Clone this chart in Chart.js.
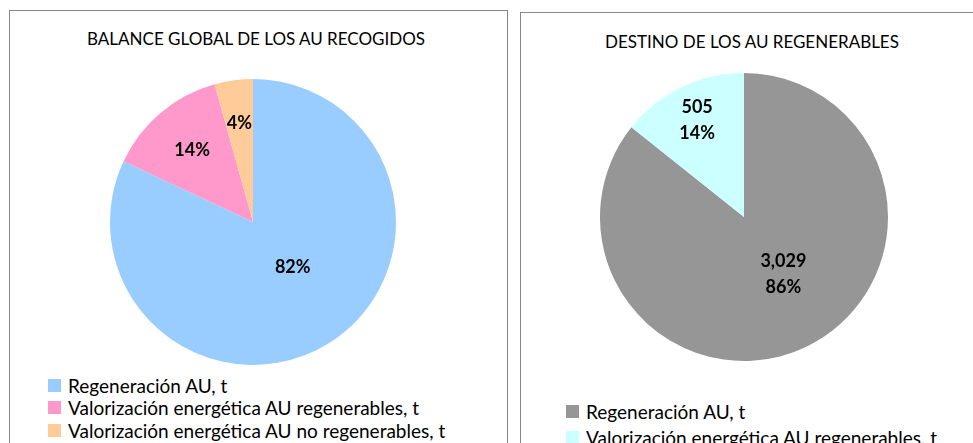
<!DOCTYPE html>
<html>
<head>
<meta charset="utf-8">
<script src="https://cdn.jsdelivr.net/npm/chart.js@4.4.1/dist/chart.umd.min.js"></script>
<style>
    body {
        margin: 0;
        width: 973px;
        height: 443px;
        overflow: hidden;
        background: #fff;
        position: relative;
        font-family: Lato, "Open Sans", sans-serif;
        color: #000;
    }
    .panel {
        position: absolute;
        border: 1px solid #878787;
        background: #fff;
    }
    .title {
        position: absolute;
        white-space: nowrap;
        font-size: 17px;
        line-height: 20px;
        transform: translateX(-50%);
    }
    canvas {
        position: absolute;
    }
    ul.legend {
        position: absolute;
        list-style: none;
        margin: 0;
        padding: 0;
    }
</style>
</head>
<body>
<div class="panel" style="left:9px; top:10px; width:497px; height:450px;"></div>
<div class="panel" style="left:520px; top:12px; width:470px; height:450px;"></div>

<div class="title" style="left:256px; top:29px;">BALANCE GLOBAL DE LOS AU RECOGIDOS</div>
<div class="title" style="left:752px; top:32px;">DESTINO DE LOS AU REGENERABLES</div>

<canvas id="balance-chart" width="286" height="286" style="left:110px; top:79px;"></canvas>
<canvas id="destino-chart" width="288" height="288" style="left:600px; top:73px;"></canvas>

<ul class="legend balance-legend" style="left:48px; top:374px;"></ul>
<ul class="legend destino-legend" style="left:566px; top:399px;"></ul>

<script>
// toneladas de aceites usados
const balanceLabels = ['Regeneración AU, t', 'Valorización energética AU regenerables, t', 'Valorización energética AU no regenerables, t'];
const balanceValues = [3029, 505, 160];
const balanceColors = ['#99ccff', '#ff99cc', '#ffcc99'];

const destinoLabels = ['Regeneración AU, t', 'Valorización energética AU regenerables, t'];
const destinoValues = [3029, 505];
const destinoColors = ['#969696', '#ccffff'];

const sliceLabelPlugin = {
    id: 'sliceLabelPlugin',
    afterDatasetsDraw(chart, args, options) {
        const ctx = chart.ctx;
        const data = chart.data.datasets[0].data;
        const total = data.reduce((a, b) => a + b, 0);

        ctx.save();
        ctx.font = 'bold 18px Lato';
        ctx.fillStyle = '#000';
        ctx.textAlign = 'center';
        ctx.textBaseline = 'middle';

        chart.getDatasetMeta(0).data.forEach((arc, i) => {
            // excel "best fit" no siempre cae en la bisectriz
            const mid = (arc.startAngle + arc.endAngle) / 2 + options.shift[i] * Math.PI / 180;
            const dist = arc.outerRadius * options.radius[i];
            const x = arc.x + Math.cos(mid) * dist;
            const y = arc.y + Math.sin(mid) * dist;
            const pct = Math.round(data[i] / total * 100) + '%';

            if (options.showValue) {
                ctx.fillText(data[i].toLocaleString('en-US'), x, y - 13);
                ctx.fillText(pct, x, y + 13);
            } else {
                ctx.fillText(pct, x, y);
            }
        });
        ctx.restore();
    }
};

const legendPlugin = {
    id: 'legendPlugin',
    afterUpdate(chart, args, options) {
        const ul = document.querySelector(options.container);

        while (ul.firstChild) {
            ul.firstChild.remove();
        }

        chart.legend.legendItems.forEach(item => {
            const li = document.createElement('li');
            li.style.display = 'flex';
            li.style.alignItems = 'center';
            li.style.height = options.rowHeight + 'px';

            const boxSpan = document.createElement('span');
            boxSpan.style.background = item.fillStyle;
            boxSpan.style.display = 'inline-block';
            boxSpan.style.width = '13px';
            boxSpan.style.height = '13px';
            boxSpan.style.marginRight = '7px';

            const text = document.createElement('span');
            text.style.fontSize = '19px';
            text.style.whiteSpace = 'nowrap';
            text.textContent = item.text;

            li.appendChild(boxSpan);
            li.appendChild(text);
            ul.appendChild(li);
        });
    }
};

function pieChart(selector, labels, values, colors, pluginOptions) {
    return new Chart(document.querySelector(selector), {
        type: 'pie',
        data: {
            labels: labels,
            datasets: [{
                data: values,
                backgroundColor: colors,
                borderWidth: 0
            }]
        },
        options: {
            responsive: false,
            animation: false,
            layout: {padding: 0},
            plugins: {
                legend: {display: false},
                tooltip: {enabled: false},
                sliceLabelPlugin: pluginOptions.labels,
                legendPlugin: pluginOptions.legend
            }
        },
        plugins: [sliceLabelPlugin, legendPlugin]
    });
}

pieChart('#balance-chart', balanceLabels, balanceValues, balanceColors, {
    labels: {radius: [0.42, 0.66, 0.7], shift: [-9, 0, 0], showValue: false},
    legend: {container: '.balance-legend', rowHeight: 22.5}
});

pieChart('#destino-chart', destinoLabels, destinoValues, destinoColors, {
    labels: {radius: [0.48, 0.75], shift: [-9, 0], showValue: true},
    legend: {container: '.destino-legend', rowHeight: 25.5}
});
</script>
</body>
</html>
